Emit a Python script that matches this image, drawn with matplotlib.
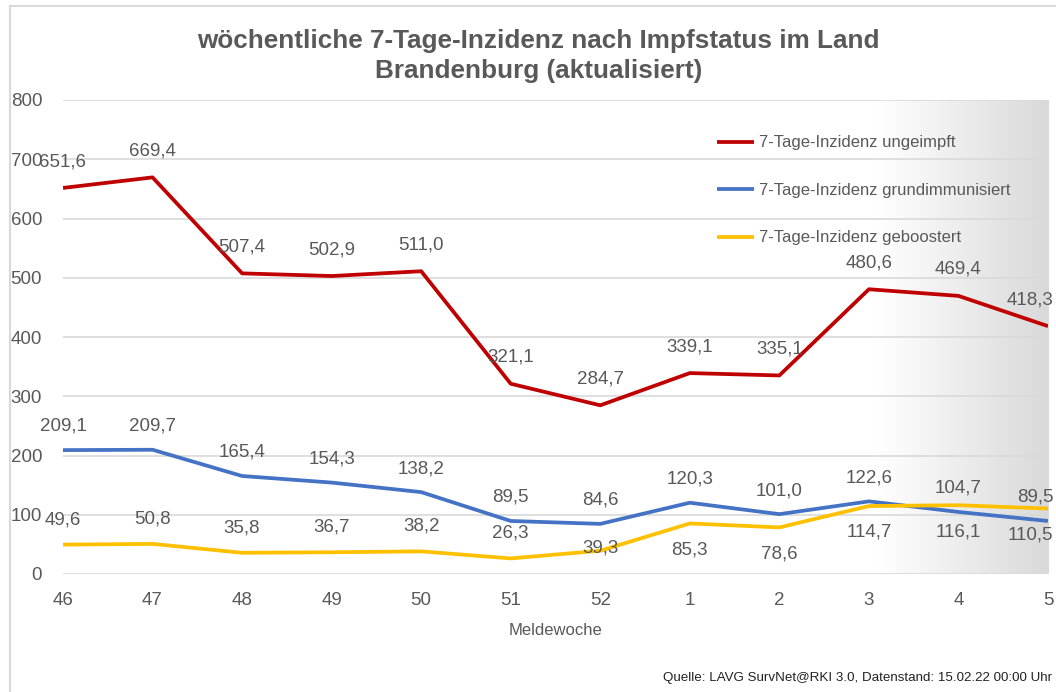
import numpy as np
import matplotlib
matplotlib.use("Agg")
import matplotlib.pyplot as plt
from matplotlib import font_manager
from matplotlib.colors import LinearSegmentedColormap
from matplotlib.lines import Line2D

# font: narrow Arial-like if available
names = {f.name for f in font_manager.fontManager.ttflist}
narrow = "Liberation Sans Narrow" if "Liberation Sans Narrow" in names else "Liberation Sans"
plt.rcParams["font.family"] = [narrow, "DejaVu Sans"]

weeks = ["46", "47", "48", "49", "50", "51", "52", "1", "2", "3", "4", "5"]
ungeimpft = [651.6, 669.4, 507.4, 502.9, 511.0, 321.1, 284.7, 339.1, 335.1, 480.6, 469.4, 418.3]
grundimmunisiert = [209.1, 209.7, 165.4, 154.3, 138.2, 89.5, 84.6, 120.3, 101.0, 122.6, 104.7, 89.5]
geboostert = [49.6, 50.8, 35.8, 36.7, 38.2, 26.3, 39.3, 85.3, 78.6, 114.7, 116.1, 110.5]

series_labels = ["7-Tage-Inzidenz ungeimpft",
                 "7-Tage-Inzidenz grundimmunisiert",
                 "7-Tage-Inzidenz geboostert"]
colors = ["#C00000", "#4472C4", "#FFC000"]
text_col = "#595959"

# label offsets (points) per series
offs_red = [19] * 12
offs_blue = [17] * 12
offs_yellow = [18] * 6 + [2] + [-19] * 5

fig = plt.figure(figsize=(10.56, 6.92), dpi=100)
ax = fig.add_axes([63 / 1056, 1 - 574 / 692, (1048 - 63) / 1056, (574 - 100) / 692])

x = np.arange(len(weeks))

# grey gradient on the right part of the plot area
cmap = LinearSegmentedColormap.from_list("g", ["#ffffff", "#d9d9d9"])
grad = np.linspace(0, 1, 256).reshape(1, -1)
ax.imshow(grad, extent=[9.1, 11, 0, 800], aspect="auto", cmap=cmap, zorder=0)

last = len(weeks) - 1
for vals, col, lab, offs in zip([ungeimpft, grundimmunisiert, geboostert], colors,
                                series_labels, [offs_red, offs_blue, offs_yellow]):
    ax.plot(x, vals, color=col, lw=2.7, label=lab, zorder=3, solid_capstyle="butt")
    for xi, v, o in zip(x, vals, offs):
        # last label pushed left so it stays inside the figure
        dx, ha = (4, "right") if xi == last else (0, "center")
        ax.annotate(f"{v:.1f}".replace(".", ","), (xi, v), xytext=(dx, o),
                    textcoords="offset points", ha=ha, va="center",
                    fontsize=13.5, color=text_col, zorder=4, annotation_clip=False)

ax.set_xlim(0, 11)
ax.set_ylim(0, 800)
ax.set_yticks(range(0, 801, 100))
ax.set_xticks(x)
ax.set_xticklabels(weeks)
ax.grid(axis="y", color="#d9d9d9", lw=1.2, zorder=1)
ax.set_axisbelow(True)
for s in ax.spines.values():
    s.set_visible(False)
ax.tick_params(axis="y", length=0, pad=15, labelsize=13.5, labelcolor=text_col)
ax.tick_params(axis="x", length=0, pad=13, labelsize=13.5, labelcolor=text_col)
ax.set_xlabel("Meldewoche", fontsize=12, color=text_col, labelpad=10)

leg = ax.legend(loc="upper left", bbox_to_anchor=(709 / 1056, 1 - 127 / 692),
                bbox_transform=fig.transFigure, frameon=False, fontsize=12,
                handlelength=2.2, handletextpad=0.3, labelspacing=1.95, borderpad=0)
for t in leg.get_texts():
    t.set_color(text_col)

fig.suptitle("wöchentliche 7-Tage-Inzidenz nach Impfstatus im Land\nBrandenburg (aktualisiert)",
             x=0.51, y=0.958, fontsize=18.8, fontweight="bold", color=text_col, linespacing=1.3)

fig.text(0.996, 0.012, "Quelle: LAVG SurvNet@RKI 3.0, Datenstand: 15.02.22 00:00 Uhr",
         ha="right", va="bottom", fontsize=9.6, color="#222222")

# chart border (left and top)
fig.add_artist(Line2D([10 / 1056, 10 / 1056], [0, 1 - 6 / 692], color="#d9d9d9", lw=1.5))
fig.add_artist(Line2D([10 / 1056, 1], [1 - 6 / 692, 1 - 6 / 692], color="#d9d9d9", lw=1.5))

fig.savefig("out.png", dpi=100)
